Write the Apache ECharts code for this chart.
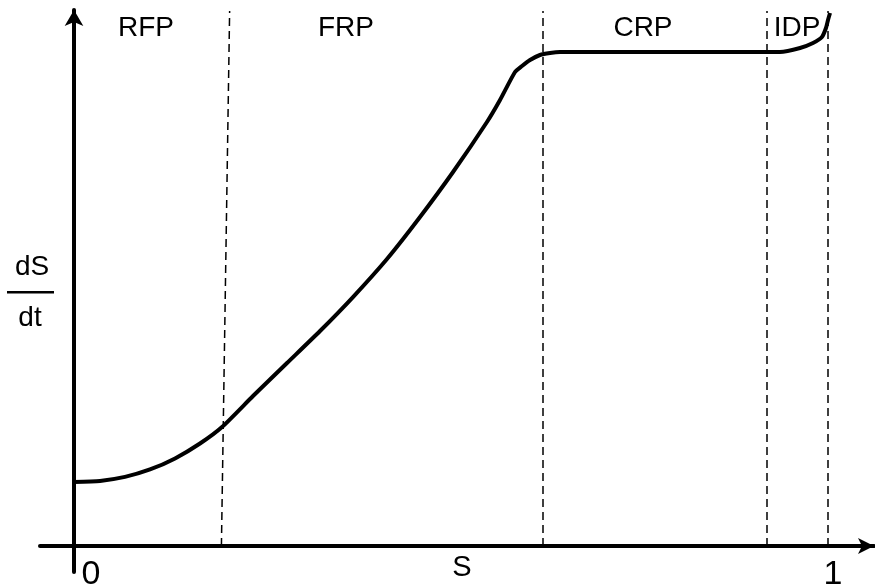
<!DOCTYPE html>
<html>
<head>
<meta charset="utf-8">
<script src="https://cdn.jsdelivr.net/npm/echarts@6/dist/echarts.min.js"></script>
<style>html,body{margin:0;padding:0;background:#fff;}#c{width:875px;height:588px;}</style>
</head>
<body>
<div id="c"></div>
<script>
// Curve: S (x) vs dS/dt (y), normalised
const curveS = [0, 0.0345, 0.0676, 0.1008, 0.1340, 0.1671, 0.1963, 0.2374, 0.2825, 0.3263, 0.3700, 0.4151, 0.4589, 0.5027, 0.5477, 0.5650, 0.5849, 0.5942, 0.6048, 0.6180, 0.6313, 0.6446, 0.7639, 0.8833, 0.9363, 0.9629, 0.9801, 0.9920, 0.9973, 1.0, 1.0027];
const curveRate = [0.1296, 0.1318, 0.1399, 0.1549, 0.1773, 0.2075, 0.2409, 0.3036, 0.3704, 0.4352, 0.5040, 0.5810, 0.6660, 0.7571, 0.8583, 0.9028, 0.9595, 0.9717, 0.9838, 0.9939, 0.9980, 1.0, 1.0, 1.0, 1.0, 1.0081, 1.0182, 1.0304, 1.0486, 1.0648, 1.0789];
// Region boundaries (dashed lines): S at bottom and top
const boundaryBottom = [0.1955, 0.622, 0.919, 1.0];
const boundaryTop = [0.2064, 0.622, 0.919, 1.0];
const boundaryTopRate = 1.083;
// Region labels
const regionNames = ['RFP', 'FRP', 'CRP', 'IDP'];
const regionLabelS = [0.0955, 0.3607, 0.7546, 0.9589];
const regionLabelRate = 1.047;
// X tick labels
const xTickValues = [0, 1];
const xTickLabels = ['0', '1'];
const xAxisName = 'S';

const chart = echarts.init(document.getElementById('c'));
const FONT = '"Liberation Sans", Arial, sans-serif';

const markData = boundaryBottom.map((b, i) => [
  { coord: [b, 0] },
  { coord: [boundaryTop[i], boundaryTopRate] }
]);

chart.setOption({
  animation: false,
  backgroundColor: '#fff',
  grid: { left: 40, right: 1, top: 10, bottom: 16, containLabel: false, outerBoundsMode: 'none' },
  xAxis: {
    type: 'value',
    min: -0.0451, max: 1.061,
    axisLine: { show: true, onZero: true, symbol: ['none', 'arrow'], symbolSize: [12, 16], lineStyle: { color: '#000', width: 4 } },
    axisTick: { show: false },
    splitLine: { show: false },
    axisLabel: {
      show: true,
      customValues: xTickValues,
      margin: -14,
      formatter: function (v) {
        const i = xTickValues.indexOf(v);
        const t = i >= 0 ? xTickLabels[i] : '';
        return i === 0 ? '{z|' + t + '}' : '{o|' + t + '}';
      },
      rich: {
        z: { fontFamily: FONT, fontSize: 34, color: '#000', padding: [0, 0, 0, 34] },
        o: { fontFamily: FONT, fontSize: 34, color: '#000', padding: [0, 0, 0, 10] }
      }
    }
  },
  yAxis: {
    type: 'value',
    min: -0.0526, max: 1.085,
    axisLine: { show: true, onZero: true, symbol: ['none', 'arrow'], symbolSize: [14, 16], lineStyle: { color: '#000', width: 4 } },
    axisTick: { show: false },
    splitLine: { show: false },
    axisLabel: { show: false }
  },
  series: [
    {
      type: 'line',
      data: curveS.map((s, i) => [s, curveRate[i]]),
      showSymbol: false,
      smooth: 0.2,
      lineStyle: { color: '#000', width: 4 },
      z: 5,
      markLine: {
        silent: true,
        symbol: ['none', 'none'],
        label: { show: false },
        lineStyle: { color: '#000', width: 1.5, type: [8, 5], opacity: 1 },
        emphasis: { disabled: true },
        data: markData
      }
    },
    {
      type: 'scatter',
      symbolSize: 0,
      silent: true,
      itemStyle: { opacity: 1 },
      data: regionNames.map((n, i) => ({ name: n, value: [regionLabelS[i], regionLabelRate] })),
      label: {
        show: true,
        position: 'inside',
        formatter: '{b}',
        fontFamily: FONT,
        fontSize: 28,
        color: '#000'
      },
      z: 10
    }
  ],
  graphic: [
    { type: 'text', x: 462, y: 568, style: { text: xAxisName, font: '29px ' + FONT, fill: '#000', align: 'center', verticalAlign: 'middle' } },
    { type: 'text', x: 32, y: 267, style: { text: 'dS', font: '28px ' + FONT, fill: '#000', align: 'center', verticalAlign: 'middle' } },
    { type: 'rect', shape: { x: 7, y: 291, width: 47, height: 2.5 }, style: { fill: '#000' } },
    { type: 'text', x: 30, y: 318, style: { text: 'dt', font: '28px ' + FONT, fill: '#000', align: 'center', verticalAlign: 'middle' } }
  ]
});
</script>
</body>
</html>
